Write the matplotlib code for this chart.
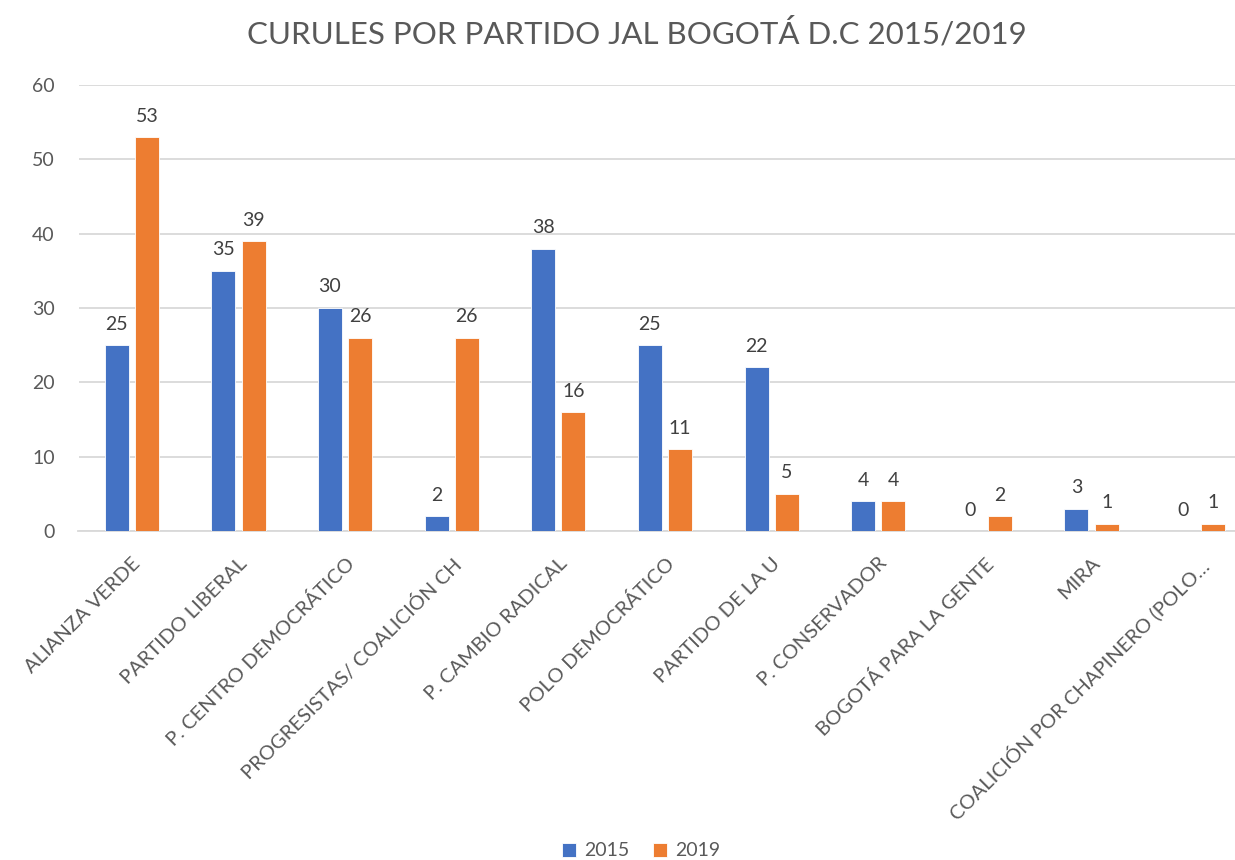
import matplotlib
matplotlib.use('Agg')
from matplotlib import pyplot as plt
import numpy as np

partidos = ['ALIANZA VERDE', 'PARTIDO LIBERAL', 'P. CENTRO DEMOCRÁTICO',
            'PROGRESISTAS/ COALICIÓN CH', 'P. CAMBIO RADICAL', 'POLO DEMOCRÁTICO',
            'PARTIDO DE LA U', 'P. CONSERVADOR', 'BOGOTÁ PARA LA GENTE', 'MIRA',
            'COALICIÓN POR CHAPINERO (POLO…']
curules_2015 = [25, 35, 30, 2, 38, 25, 22, 4, 0, 3, 0]
curules_2019 = [53, 39, 26, 26, 16, 11, 5, 4, 2, 1, 1]
series = ['2015', '2019']
colores = ['#4472C4', '#ED7D31']
gris = '#595959'

plt.rcParams['font.family'] = ['Lato', 'DejaVu Sans']

fig = plt.figure(figsize=(12.35, 8.6), dpi=100)
ax = fig.add_axes([78.5 / 1235, 329 / 860, 1173 / 1235, 446 / 860])

x = np.arange(len(partidos))
w = 0.225
off = 0.1416
b1 = ax.bar(x - off, curules_2015, w, color=colores[0], label=series[0],
            edgecolor='white', linewidth=0.6, zorder=3)
b2 = ax.bar(x + off, curules_2019, w, color=colores[1], label=series[1],
            edgecolor='white', linewidth=0.6, zorder=3)
for bars in (b1, b2):
    ax.bar_label(bars, padding=9, fontsize=14, color='#404040')

ax.set_xlim(-0.5, len(partidos) - 0.5)
ax.set_ylim(0, 60)
ax.set_yticks(range(0, 61, 10))
ax.yaxis.grid(True, color='#D9D9D9', linewidth=1.3, zorder=0)
ax.set_axisbelow(True)
for s in ['top', 'right', 'left']:
    ax.spines[s].set_visible(False)
ax.spines['bottom'].set_color('#D9D9D9')
ax.spines['bottom'].set_linewidth(1.3)
ax.tick_params(axis='y', length=0, labelsize=14, labelcolor=gris, pad=17)
ax.tick_params(axis='x', length=0, labelsize=14.5, labelcolor=gris, pad=17)
ax.set_xticks(x)
ax.set_xticklabels(partidos, rotation=45, ha='right', rotation_mode='anchor')

fig.text(637 / 1235, 1 - 33 / 860, 'CURULES POR PARTIDO JAL BOGOTÁ D.C 2015/2019',
         ha='center', va='center', fontsize=22.5, color=gris)

fig.legend(loc='center', bbox_to_anchor=(641 / 1235, 1 - 851 / 860), ncol=2,
           frameon=False, fontsize=14, labelcolor=gris, handlelength=0.75,
           handleheight=0.75, handletextpad=0.4, columnspacing=1.2)

plt.savefig('out.png', dpi=100)
